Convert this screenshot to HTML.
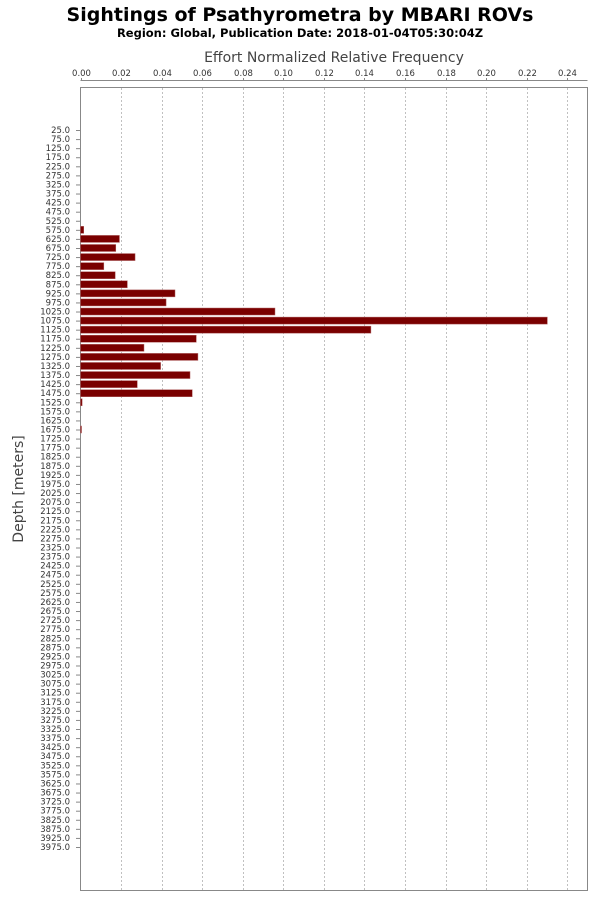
<!DOCTYPE html>
<html><head><meta charset="utf-8">
<style>
html,body{margin:0;padding:0;background:#fff;}
body{width:600px;height:900px;overflow:hidden;font-family:"DejaVu Sans","Liberation Sans",sans-serif;}
</style></head>
<body>
<svg id="chart" width="600" height="900" xmlns="http://www.w3.org/2000/svg" font-family="DejaVu Sans, Liberation Sans, sans-serif">
<text x="300" y="21" text-anchor="middle" font-size="19" font-weight="bold" fill="#000">Sightings of Psathyrometra by MBARI ROVs</text>
<text x="300" y="37" text-anchor="middle" font-size="11.5" font-weight="bold" fill="#000">Region: Global, Publication Date: 2018-01-04T05:30:04Z</text>
<text x="334" y="62" text-anchor="middle" font-size="14" fill="#444">Effort Normalized Relative Frequency</text>
<text transform="translate(23,489) rotate(-90)" text-anchor="middle" font-size="14" fill="#444">Depth [meters]</text>
<g id="grid"></g>
<rect x="80.5" y="87.5" width="507" height="803" fill="none" stroke="#888" stroke-width="1"/>
<g id="xticks"></g>
<g id="yticks"></g>
<g id="bars"></g>
</svg>
<script>
const categories = [];
for (let d = 25; d <= 3975; d += 50) categories.push(d);
const depthsWithData = [575,625,675,725,775,825,875,925,975,1025,1075,1125,1175,1225,1275,1325,1375,1425,1475,1525,1675];
const frequencyValues = [0.0016,0.0192,0.0174,0.0269,0.0115,0.0171,0.0231,0.0466,0.0422,0.0959,0.2302,0.1432,0.0571,0.0313,0.0579,0.0395,0.054,0.028,0.0551,0.0008,0.0005];
const xTickLabels = ["0.00","0.02","0.04","0.06","0.08","0.10","0.12","0.14","0.16","0.18","0.20","0.22","0.24"];
const xMax = 0.25;

const NS = "http://www.w3.org/2000/svg";
const X0 = 80.5, X1 = 587.5;
function xScale(v){ return X0 + v / xMax * (X1 - X0); }
const Y0 = 130, STEP = (847 - 130) / 79;
function yScale(i){ return Y0 + i * STEP; }
function mk(tag, attrs, parent){ const e = document.createElementNS(NS, tag); for (const k in attrs) e.setAttribute(k, attrs[k]); parent.appendChild(e); return e; }

const grid = document.getElementById("grid"), xt = document.getElementById("xticks"), yt = document.getElementById("yticks"), bars = document.getElementById("bars");
mk("line", {x1: X0, x2: X1, y1: 80.5, y2: 80.5, stroke: "#888"}, xt);
xTickLabels.forEach(l => {
  const x = Math.round(xScale(parseFloat(l))) + 0.5;
  if (parseFloat(l) > 0) {
    const g = mk("line", {x1: x, x2: x, y1: 88, y2: 890, stroke: "#c0c0c0", "stroke-dasharray": "2,2"}, grid);
    
    
  }
  mk("line", {x1: x, x2: x, y1: 78, y2: 81, stroke: "#888"}, xt);
  const t = mk("text", {x: x, y: 76, "text-anchor": "middle", "font-size": "8.5", fill: "#333"}, xt);
  t.textContent = l;
  
  
});
categories.forEach((c, i) => {
  const y = yScale(i);
  const t = mk("text", {x: 70, y: y + 3, "text-anchor": "end", "font-size": "8.5", fill: "#333"}, yt);
  t.textContent = c.toFixed(1);
  
  
  mk("line", {x1: 76, x2: 80, y1: y + 0.5, y2: y + 0.5, stroke: "#888"}, yt);
});
depthsWithData.forEach((d, k) => {
  const i = categories.indexOf(d);
  const y = yScale(i);
  const x = xScale(frequencyValues[k]);
  const r = mk("rect", {x: X0, y: y - 3.5, width: Math.max(0.8, x - X0), height: 7, fill: "#7a0000", stroke: "#b06060", "stroke-width": "0.5"}, bars);
  
  
});
</script>
</body></html>
